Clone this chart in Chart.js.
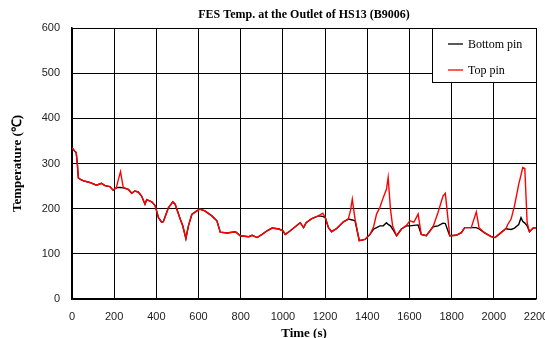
<!DOCTYPE html>
<html>
<head>
<meta charset="utf-8">
<script src="https://cdn.jsdelivr.net/npm/chart.js@4/dist/chart.umd.min.js"></script>
<style>
html,body{margin:0;padding:0;background:#fff;}
#wrap{width:545px;height:338px;}
</style>
</head>
<body>
<div id="wrap"><canvas id="c" width="545" height="338"></canvas></div>
<script>
const chartTitle = "FES Temp. at the Outlet of HS13 (B9006)";
const xTitle = "Time (s)";
const yTitle = "Temperature (\u2103)";
const seriesNames = ["Bottom pin", "Top pin"];

const times = [0,12,20,26,30,40,52,84,116,140,
156,179,195,210,220,230,243,267,283,298,
314,330,346,354,378,394,410,425,433,457,
478,489,513,525,540,552,568,592,606,630,
663,687,703,735,775,798,838,854,878,901,
925,949,981,1000,1011,1035,1082,1098,1110,1137,
1168,1189,1201,1216,1231,1255,1287,1310,1320,1329,
1342,1362,1389,1413,1430,1444,1460,1476,1491,1499,
1510,1520,1539,1562,1586,1602,1621,1641,1656,1680,
1712,1735,1759,1770,1791,1822,1846,1862,1893,1917,
1930,1955,1987,2006,2034,2058,2066,2082,2098,2118,
2129,2137,2147,2158,2169,2188,2200];

const bottomPin = [335,328,324,295,268,265,262,258,252,256,
251,249,241,246,247,247,246,243,234,239,
237,228,210,220,215,207,180,170,171,202,
215,210,177,162,134,162,187,195,199,195,
184,173,148,146,149,140,138,141,136,143,
151,157,155,151,143,151,169,158,169,178,
184,183,180,158,149,156,171,177,176,175,
173,129,132,143,155,158,162,162,169,165,
162,155,140,155,162,162,163,164,143,140,
160,162,168,167,140,141,147,158,158,158,
155,147,138,136,147,156,155,154,157,165,
180,172,168,162,149,158,157];

const topPin = [335,328,324,295,268,265,262,258,252,256,
251,249,241,246,265,282,247,243,234,239,
237,228,210,220,215,207,180,170,171,202,
215,210,177,162,134,162,187,195,199,195,
184,173,148,146,149,140,138,141,136,143,
151,157,155,151,143,151,169,158,169,178,
184,190,180,158,149,156,171,177,195,221,
177,129,132,143,160,188,203,225,243,269,
199,162,140,155,163,173,170,188,143,140,
160,191,228,234,140,141,147,158,158,193,
158,147,138,136,147,156,165,177,206,254,
275,291,289,169,149,158,157];

const seriesColors = ["#000000", "#ff0000"];

const toPoints = arr => arr.map((v, i) => ({x: times[i], y: v}));

const boxLegend = {
  id: 'boxLegend',
  afterDraw(chart) {
    const ctx = chart.ctx;
    const a = chart.chartArea;
    const x0 = a.right - 104, y0 = a.top, w = 104, h = 54;
    ctx.save();
    ctx.fillStyle = '#fff';
    ctx.fillRect(x0, y0, w, h);
    ctx.strokeStyle = '#000';
    ctx.lineWidth = 1;
    ctx.strokeRect(x0 + 0.5, y0 + 0.5, w, h);
    ctx.font = '12px "Liberation Serif", "Times New Roman", serif';
    ctx.textBaseline = 'middle';
    ctx.textAlign = 'left';
    const rows = [y0 + 16, y0 + 42];
    seriesNames.forEach((n, i) => {
      ctx.strokeStyle = seriesColors[i];
      ctx.lineWidth = 1.3;
      ctx.beginPath();
      ctx.moveTo(x0 + 16, rows[i]);
      ctx.lineTo(x0 + 31, rows[i]);
      ctx.stroke();
      ctx.fillStyle = '#000';
      ctx.fillText(n, x0 + 36, rows[i] + 0.5);
    });
    ctx.restore();
  }
};

new Chart(document.getElementById('c'), {
  type: 'line',
  data: {
    datasets: [
      {label: seriesNames[0], data: toPoints(bottomPin), borderColor: seriesColors[0], borderWidth: 1.4, pointRadius: 0, tension: 0, order: 1},
      {label: seriesNames[1], data: toPoints(topPin), borderColor: seriesColors[1], borderWidth: 1.4, pointRadius: 0, tension: 0, order: 0}
    ]
  },
  options: {
    responsive: false,
    animation: false,
    layout: {padding: {left: 0, right: 9, top: 0, bottom: 0}},
    plugins: {
      legend: {display: false},
      tooltip: {enabled: false},
      title: {
        display: true,
        fullSize: false,
        text: chartTitle,
        color: '#000',
        font: {family: '"Liberation Serif", "Times New Roman", serif', size: 12, weight: 'bold'},
        padding: {top: 8, bottom: 5.6}
      }
    },
    scales: {
      x: {
        type: 'linear',
        min: 0, max: 2200,
        ticks: {stepSize: 200, color: '#222', padding: 11, maxRotation: 0, autoSkip: false,
          callback: v => String(v),
          font: {family: '"Liberation Sans", Arial, sans-serif', size: 11}},
        grid: {color: '#000', lineWidth: 1, drawTicks: false},
        border: {color: '#000', width: 1.5},
        title: {display: true, text: xTitle, color: '#000',
          font: {family: '"Liberation Serif", "Times New Roman", serif', size: 13, weight: 'bold'},
          padding: {top: 0, bottom: -3}},
        afterFit(s) { s.height = 39; s.paddingRight = 0; s.paddingLeft = 0; }
      },
      y: {
        min: 0, max: 600,
        ticks: {stepSize: 100, color: '#222', padding: 12,
          callback: v => String(v),
          font: {family: '"Liberation Sans", Arial, sans-serif', size: 11}},
        grid: {color: '#000', lineWidth: 1, drawTicks: false},
        border: {color: '#000', width: 1.5},
        title: {display: true, text: yTitle, color: '#000',
          font: {family: '"Liberation Serif", "Times New Roman", serif', size: 13, weight: 'bold'},
          padding: {top: 10, bottom: 0}},
        afterFit(s) { s.width = 72; }
      }
    }
  },
  plugins: [boxLegend]
});
</script>
</body>
</html>
